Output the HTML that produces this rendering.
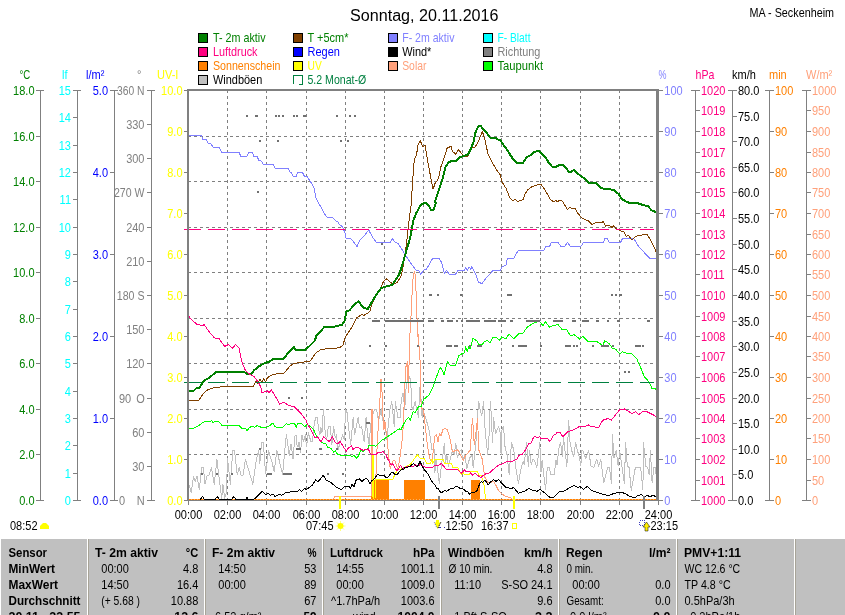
<!DOCTYPE html>
<html><head><meta charset="utf-8"><title>Sonntag, 20.11.2016</title>
<style>
html,body{margin:0;padding:0;background:#fff;overflow:hidden}
svg{display:block;font-family:"Liberation Sans",Arial,sans-serif}
text{white-space:pre}
</style></head><body>
<svg width="845" height="615" viewBox="0 0 845 615">
<rect x="0" y="0" width="845" height="615" fill="#fff"/>
<g shape-rendering="crispEdges">
<line x1="188" y1="136.5" x2="655" y2="136.5" stroke="#808080" stroke-width="1" stroke-dasharray="3 3"/>
<line x1="188" y1="181.5" x2="655" y2="181.5" stroke="#808080" stroke-width="1" stroke-dasharray="3 3"/>
<line x1="188" y1="227.5" x2="655" y2="227.5" stroke="#808080" stroke-width="1" stroke-dasharray="3 3"/>
<line x1="188" y1="272.5" x2="655" y2="272.5" stroke="#808080" stroke-width="1" stroke-dasharray="3 3"/>
<line x1="188" y1="318.5" x2="655" y2="318.5" stroke="#808080" stroke-width="1" stroke-dasharray="3 3"/>
<line x1="188" y1="363.5" x2="655" y2="363.5" stroke="#808080" stroke-width="1" stroke-dasharray="3 3"/>
<line x1="188" y1="409.5" x2="655" y2="409.5" stroke="#808080" stroke-width="1" stroke-dasharray="3 3"/>
<line x1="188" y1="454.5" x2="655" y2="454.5" stroke="#808080" stroke-width="1" stroke-dasharray="3 3"/>
<line x1="227.5" y1="90" x2="227.5" y2="500" stroke="#808080" stroke-width="1" stroke-dasharray="3 3"/>
<line x1="266.5" y1="90" x2="266.5" y2="500" stroke="#808080" stroke-width="1" stroke-dasharray="3 3"/>
<line x1="306.5" y1="90" x2="306.5" y2="500" stroke="#808080" stroke-width="1" stroke-dasharray="3 3"/>
<line x1="345.5" y1="90" x2="345.5" y2="500" stroke="#808080" stroke-width="1" stroke-dasharray="3 3"/>
<line x1="384.5" y1="90" x2="384.5" y2="500" stroke="#808080" stroke-width="1" stroke-dasharray="3 3"/>
<line x1="423.5" y1="90" x2="423.5" y2="500" stroke="#808080" stroke-width="1" stroke-dasharray="3 3"/>
<line x1="462.5" y1="90" x2="462.5" y2="500" stroke="#808080" stroke-width="1" stroke-dasharray="3 3"/>
<line x1="501.5" y1="90" x2="501.5" y2="500" stroke="#808080" stroke-width="1" stroke-dasharray="3 3"/>
<line x1="540.5" y1="90" x2="540.5" y2="500" stroke="#808080" stroke-width="1" stroke-dasharray="3 3"/>
<line x1="580.5" y1="90" x2="580.5" y2="500" stroke="#808080" stroke-width="1" stroke-dasharray="3 3"/>
<line x1="619.5" y1="90" x2="619.5" y2="500" stroke="#808080" stroke-width="1" stroke-dasharray="3 3"/>
</g>
<!--DATA-->
<polyline points="188.9,484.2 191.2,492.3 193.5,476.2 195.2,481.9 197,476.2 199.3,490 201.6,467.5 203.3,467.5 205,484.2 206.8,476.2 209.1,475 211.4,467.5 214.3,484.2 216.9,459.4 218.9,476.2 220.6,490 221.8,498.1 222.9,484.2 224.7,498.1 226.4,492.3 227.5,458.8 230.4,484.2 232.7,450.8 234.5,450.8 237.3,475 239.3,467.5 240.8,475 243.1,475 245.4,459.4 252.9,484.2 256.4,459.4 258.7,450.8 259.8,463.5 261.6,442.1 263.3,442.1 265.6,473.8 268.5,450.8 272.2,462.9 274.1,471.4 276.9,450.6 279.8,462.9 282.6,474.2 285.4,443.9 286.4,434.5 289.2,455.3 291.1,443.9 293,459.1 294.9,436.4 296,434.8 296.5,443.7 298,446.7 299,441.7 300.5,452.7 302,434.8 303.5,441.7 305.4,434.8 306.4,446.7 308.4,432.8 310.9,441.7 312.4,441.7 314.4,422.8 315.9,417.4 317.4,417.4 318.4,427.8 319.9,434.8 320.9,427.8 322,432.8 323.3,409.4 324.3,418.9 325.3,434.8 326.8,438.7 328.3,426.8 330.3,426.8 331.8,444.7 333.6,426.8 335.3,437.7 336.3,434.8 338.2,449.2 340.2,442.7 342.7,434.8 344.2,439.7 345.7,409.4 347.2,412.9 348.2,423.8 350.7,444.7 353.2,417.4 354.6,434.8 358.1,417.4 359.6,427.8 361.6,426.8 364.1,441.7 366.1,417.4 367.6,434.8 369.1,444.7 370.6,424.8 372,417.4 374.5,409.4 376.5,409.4 378.5,420.8 381.4,408.8 382.4,419.8 384.9,423.7 386.8,439.6 388.8,419.8 389.8,409.8 391.8,401.4 394.3,426.7 395.3,401.4 397.8,417.3 400.3,417.3 401.3,398.9 403.2,392.9 404.7,409.8 406.2,386 408.7,376 410.7,380 411.7,406.8 413.2,409.8 415.2,401.4 416.7,409.8 418.6,417.8 419.6,387 421.1,399.9 422.1,417.8 423.1,409.8 425.6,417.8 428.6,427.7 430.6,439.6 432,449.9 434.4,449.9 434.9,472.8 435.9,459.9 437.4,467.8 439.4,483.7 440.9,469.8 444.4,443 445.4,462.9 446.9,454.9 448.4,466.8 450.4,457.9 452.8,449.9 454.3,454.9 455.8,443 457.3,457.9 459.3,451.9 461.3,449.9 462.8,459.9 464.8,454.9 466.8,468.8 469.7,457.9 472.2,454.9 473.2,467.8 476.7,434.8 477.7,414.9 478.7,401 479.7,407.9 481.7,415.9 483.7,401 484.7,424.8 486.2,440.7 487.7,454.6 489.1,434.8 489.6,415.9 490.6,401 491.6,424.8 492.6,442.7 493.6,417.4 495.6,433.8 498.6,426.3 500.1,432.8 501.1,454.6 501.2,431.5 503.5,426.3 505.2,448.8 506.9,453.5 509.2,474.2 511.5,442.5 513.8,450 515.6,466.2 518.5,483.5 520.8,469.6 523.1,461.5 524.2,465 526.5,442.5 528.3,466.2 529.4,450 531.2,465 532.9,459.2 534.6,460.4 536.9,467.3 539.8,442.5 541,471.9 542.1,460.4 543.8,475.4 545.6,489.2 547.3,467.3 549,467.3 550.8,474.2 554.2,474.2 556,460.4 557.1,465 558.8,448.8 560.6,442.5 562.3,456.9 563.5,437.3 565.2,452.3 566.9,466.2 568.7,420 569.8,440.8 571.5,450 573.8,456.9 575.6,442.5 577.3,450 579.6,458.1 580.8,465.6 581.9,450 582.9,450.6 585.8,458.7 588.7,450.6 591,466.2 593.8,467.3 596.7,459.2 598.5,466.2 600.8,459.2 603.7,482.9 607.7,467.3 609.4,467.3 611.4,483.5 612.5,434.4 614,458.1 616.3,450.6 618.1,466.2 619.8,451.2 624.4,483.5 625.6,442.5 627.3,466.2 629,467.3 631.3,490.4 635.4,467.3 640.6,467.3 642.9,489.2 643.5,442.5 645.8,466.2 647.5,467.3 649.2,474.2 650.4,450.6 652.1,482.9 653.8,467.3 655,467.3 656.2,475.4" fill="none" stroke="#c0c0c0" stroke-width="1" stroke-linejoin="round" shape-rendering="crispEdges"/>
<g shape-rendering="crispEdges">
<rect x="371" y="480" width="18" height="20" fill="#ff8000"/>
<rect x="404" y="480" width="21" height="20" fill="#ff8000"/>
<rect x="471" y="480" width="9" height="20" fill="#ff8000"/>
</g>
<polyline points="333.7,499.5 334.6,496 371.3,496 371.6,409 372.8,409 373.2,499 375,499 377.4,440 379.4,410 380.4,390 381,379 382,392 382.4,400 383.2,422 383.9,430 384.9,421 386.3,433 387.3,440 388.5,455 390.2,468.8 392.7,461.4 394.7,460 397.7,468.8 399.7,459.9 402.2,440 403.7,420 404.4,390 405,382 405.8,367.4 407.3,361.5 408,380 408.4,393 408.8,380 409.3,344 410.8,320.5 412.2,291.3 413.4,274 414.8,271.8 415.7,281.5 416.3,301 417.1,320.5 417.5,336.1 418.6,334.2 419,345.9 420,359.6 420.8,399.9 421.6,407.8 423.6,410.8 424.6,419.8 426.1,433.7 427.1,443 429,454.9 430.5,460.9 432,459 433.5,449.9 434.5,436.7 436.5,434.8 438,441.7 439.4,433.8 440.9,435.8 442.9,429.8 444.9,428.3 446.9,429.3 449.4,435.8 452.4,451.7 457.8,449.9 461.3,456.9 463.3,460.4 465.3,455.9 469.7,450.9 470.3,450.7 471.7,426.8 472.5,418.4 473.2,426.8 474.2,444.7 475.7,434.8 477.5,418.4 478.2,434.8 478.7,449.7 480.2,453.9 482.2,458.9 483.7,469.8 484.6,476.8 488.1,482.7 493.6,481.7 495.6,484.7 498.6,490.7 502,494.2 506,496.5 510.7,497.9 512,499.5" fill="none" stroke="#ffa07a" stroke-width="1" stroke-linejoin="round" shape-rendering="crispEdges"/>
<polyline points="372,499.5 372.5,454 373.5,454 374,499.5 375,499.5 375.5,479.8 392.7,479.8 394.7,474.8 397.7,469.8 401.7,468.8 405.6,466.8 409.6,464.9 411.6,462.9 415.6,456.9 417.6,454.9 420.6,458.9 424.5,458.9 426.5,463.4 430.5,463.4 432,459.4 433,463.4 434.9,459.4 443.4,459.4 444.4,463.4 451.3,463.4 452.8,467.3 457.8,467.3 459.8,471.8 461.3,474.8 463.3,471.8 464.3,474.8 469.7,474.8 470.2,471.8 477.7,471.8 478.7,475.3 481.2,475.8 482.7,479.8 484.2,485.7 485.6,499.5" fill="none" stroke="#ffff00" stroke-width="1" stroke-linejoin="round" shape-rendering="crispEdges"/>
<line x1="189" y1="499.5" x2="656" y2="499.5" stroke="#ffb060" stroke-width="1" shape-rendering="crispEdges"/><line x1="189" y1="499.5" x2="656" y2="499.5" stroke="#ff8000" stroke-width="1" stroke-dasharray="2 1" shape-rendering="crispEdges"/>
<polyline points="188.3,135.6 201.5,135.6 203,139.4 206.5,139.8 208.3,143.4 211,143.8 212.9,147 219.1,147.4 221.6,152.3 239,152.3 240.9,156.3 247,156.3 248.9,152.3 252.3,152.3 253.8,156.3 257,156.6 258.9,160.4 260.8,160.4 263.3,164.2 273.1,164.2 275,168.2 288.3,168.2 290.2,172.2 291.3,172.6 293,176.3 296.2,176.3 297.7,172.6 302.5,172.6 304.4,176.3 307.2,176.7 311,182.6 314.4,188.3 315.7,197.7 317.6,201.5 321.4,207.7 324.3,213.4 327.1,217.2 332.8,217.5 335.6,220.9 337.5,221.5 340.4,225.7 342.2,226.2 345.1,233.2 346,238 349.8,238 353.6,241.8 357,246.5 360.2,239.9 364,236.1 368.7,230 372.5,237 376.3,242.2 381,242.2 390.5,242.2 392.4,238.9 395.2,242.2 398.1,243.7 401.9,249.3 406.6,256.9 410.4,262.6 413.2,266.4 416.1,270.2 418.9,271.1 420.8,274.3 423.7,270.2 426.5,269.2 430.3,262.6 432.7,258.4 439.2,258.4 441.6,262.6 444.5,274 446.4,270.2 449.2,274 455.8,274 457.7,270.6 464.4,270.6 465.7,267.3 467.2,270.6 469.1,266.8 470.6,269.2 471.9,266.8 474.8,272.1 478.6,282.5 482,283.4 486.2,277.8 489.9,274 492.8,270.6 500.4,270.2 502.2,266.4 506,265.4 506,262.6 507.9,258.4 513.6,258.4 518.3,250.3 543.9,250.3 545.8,246.5 549.6,246.5 551.5,242.3 558.1,242.3 560.9,246.5 564.7,246.5 567.6,242.3 570.4,246.5 580.8,246.5 583.7,242.3 603.5,242.3 604.9,238.4 607.3,238.4 609.2,242.3 620.6,242.3 622.5,238.4 633.8,238.4 638.6,246.5 642.4,250.3 646.2,254.7 649.9,258.4 656.6,258.4" fill="none" stroke="#8080ff" stroke-width="1" stroke-linejoin="round" shape-rendering="crispEdges"/>
<polyline points="188.3,428.4 193.6,428.4 198.3,426 204,421.8 209.7,421.8 211.6,420.3 212.9,423.1 215.4,421.2 219.1,421.8 222,425.6 239,425.6 241.9,428.4 245.7,428.8 247,430.7 249.4,427.5 252.3,426.3 254.6,427.5 257,425.6 261.8,427.5 265.5,427.8 269.3,426 272.7,423.1 275,426.9 282.6,427.5 286.4,423.7 289.2,425 291.1,423.1 294.9,424.1 296.2,427.5 296,426.8 297.5,423.8 302,423.8 304.9,426.8 306.9,424.3 310.9,426.8 313.9,430.3 316.9,436.7 319.9,439.7 321.8,442.7 325.8,443.7 327.8,447.2 330.8,448.2 333.8,452.2 335.3,450.7 337.7,454.6 342.7,455.6 347.7,455.6 348,455.4 350.5,455.9 352,456.9 354,455.4 356.9,458.4 358.9,454.9 360.9,449.4 362.9,451.9 364.4,449.9 367.4,449.4 368.9,445.5 371.8,445 373.8,445 375.8,446.5 379.8,442 382.3,440 392.4,433.5 396.2,430.7 399,428.8 400.9,429.7 402.8,426 405.7,420.3 408.5,417.4 410.4,420.3 413.2,411.8 415.1,412.7 418.9,406.1 420.8,407 423.7,399.4 429.3,394.7 433.1,387.1 436.9,375.8 440.1,367.6 441.6,369.1 444.1,374.8 447.3,361.9 450.2,365 455.8,365 458.7,355.9 461.5,354 464.4,353 465.7,346.8 467.2,352.1 468.7,346.4 470.1,349.2 472.9,338.5 476.7,340.7 478.6,344.5 482.4,344.5 484.3,341.7 487.1,340.3 489.9,342.6 492.8,337.9 496.6,337.3 499.4,340.3 501.7,336.9 506,338.8 508.8,334.1 513.6,338.8 519.3,333.2 523,333.2 526.8,327.5 532.5,323.7 537.2,321.8 540.1,321.8 542.9,325.6 545.4,321.8 549.6,327.1 553.3,325.6 558.1,324.6 561.9,329.4 566.6,329.4 570.4,336 574.2,334.7 579.9,339.2 582.7,336 588.4,341.7 596.9,341.7 602.6,345.5 604.9,340.7 609.2,343.6 612.1,347.9 615.8,349.2 619.6,354 622.5,351.7 627.2,353.6 631.9,354 636.7,358.7 640.5,367.2 644.3,376.7 647.1,379.6 649.9,383.3 651.8,388.5 655.6,389 656.9,390.9" fill="none" stroke="#00ff00" stroke-width="1" stroke-linejoin="round" shape-rendering="crispEdges"/>
<polyline points="188.3,400.4 198.9,400.4 203,393.8 207.8,389.6 214.4,387.7 223.9,386.6 253.2,386.2 256.1,381.4 258,383.3 260.2,379 261.8,382.4 263.7,378.6 265.5,382 267.4,377.7 273.1,374.4 284.5,372.9 289.2,366.9 293,363.8 299.6,362.5 310.1,361.2 315.7,353 320.5,349.8 329.9,348.3 339.4,347.9 342.8,345.5 345.1,337.9 346,336 351.7,327.5 356.4,318 357.4,317.5 361.2,314.7 364,315.3 369.7,311.8 372.5,302.4 376.3,295.8 380.1,290.1 382.9,282.5 386.2,278.7 389.6,281.5 393.3,284.4 397.1,282.5 400.9,276.8 402.8,268.3 405.7,249.3 407.6,234.2 409.4,217.2 411.3,203.9 411.3,201.5 412.7,180.7 413.8,163.7 415.1,158 416.5,155.1 418,144.7 420.2,140.5 422.7,146.6 425.2,145.7 427.4,159.9 430.3,175 433.1,189.2 435,183.5 438.4,178.8 440.7,167.4 443.5,159.9 447.3,147.6 451.1,146.6 452.4,151.3 455.8,154.2 458.7,149.4 461.9,154.2 465.3,156.1 468.2,156.1 471,147.6 474.8,147.6 478.6,140.9 482.4,131.5 485.2,140.9 488,154.2 491.8,161.8 497.5,171.2 500.4,175 501.7,181.6 506,188.3 509.8,197.7 512.6,200.6 515.5,199.6 517.4,201.5 523,199.6 524.9,194 527.8,189.8 532.5,186.4 537.2,184.9 541,184.5 543.9,188.3 546.7,193 550.5,199.6 553.3,201.5 556.2,200.6 557.5,201.9 559,200.6 561.9,200.6 562.8,202 567.6,209.6 569.4,207.7 575.1,208.6 578,213.4 581.8,218.1 588.4,220.9 592.2,224.7 595,222.8 603.5,221.9 605.4,226.2 609.2,225.1 612.1,227.6 614,225.7 615.8,228.5 619.6,230.4 624.4,232.3 626.3,237 628.2,235.1 631.9,239.9 635.7,236.5 640.5,235.1 647.1,234.6 649.9,238.9 652.8,244.6 655.6,250.3 656.9,254.7" fill="none" stroke="#804000" stroke-width="1" stroke-linejoin="round" shape-rendering="crispEdges"/>
<polyline points="188.3,390.9 193.6,390.9 196.4,388.1 199.3,387.7 204,380.5 207.8,378.6 211.6,375.8 215.4,372.4 244.7,372.4 247.6,374.4 251.3,374.4 254.2,370.1 258.9,366.3 263.7,363.5 269.3,361.6 273.1,359.1 283.5,358.7 287.3,354 292.1,349.2 293.6,346.8 295.8,349.8 305.3,349.8 310.1,345.5 314.8,340.7 316.3,336 320.5,331.3 324.3,327.1 335.6,326.5 342.2,324.6 345.1,319.9 346,311.8 349.8,310 354.5,304.3 358.3,301.4 364,308.1 367.8,309 371.6,302.4 376.3,294.8 381,288.2 383.9,287.2 392.4,284.8 395.6,279.7 399,274.9 401.9,266.4 405.7,253.1 410.4,237 413.2,220.9 416.1,213.4 420.8,204.8 425.5,202.6 429.3,206.7 431.2,210.5 433.5,210 436,202.9 435,201.5 436.9,195.8 439.2,189.2 442.6,178.8 445.4,167.4 448.3,162.7 452.1,160.8 455.8,160.8 459.6,157 463.4,156.1 468.2,154.2 471,148.5 473.8,140.9 475.7,131.5 478.6,126.2 480.5,125.8 483.3,129.2 487.1,133.3 489.9,137.5 495.6,137.5 497.5,139.4 500.4,140 503.2,144.7 506,148.1 509.8,154.2 513.6,159.9 516.4,162.7 523,162.7 526.8,157 530.6,155.1 534.4,151.9 539.1,150.8 542.9,155.1 545.8,157.6 548.6,162.7 552.4,166.9 556.2,166.9 559,165 562.8,165 565.7,167.4 568.5,171.6 571.3,171.6 574.2,169.9 577,173.1 580.8,176 584.6,178.8 588.4,182.6 596,183 599.8,187.3 604.5,189.2 609.2,189.2 614,190.2 618.7,194 621.5,198.7 625.3,201.2 631,203.5 636.7,202.9 642.4,204.8 648,206.2 651.8,210.5 656.9,212.4" fill="none" stroke="#008000" stroke-width="2" stroke-linejoin="round" shape-rendering="crispEdges"/>
<polyline points="188.3,315.5 191.7,319.9 197.4,324.6 203,325.6 204,324.1 208.7,331.3 214.4,337.9 219.1,338.8 224.8,346.4 228.6,344.5 232.4,348.3 235.6,344.5 239,348.3 240.9,357.8 242.8,364.4 245.7,371 249.4,373.9 254.2,376.7 258.9,383.3 260.8,387.1 261.8,392.8 267.4,390.9 269.3,392.8 271.2,389.6 275,395.7 279.8,404.2 283.5,402.3 289.2,405.5 294,406.6 296,408.4 301,413.4 305.9,419.9 307.9,424.8 310.9,429.8 314.9,437.7 317.4,436.7 320.9,441.7 323.8,436.7 325.8,438.7 329.3,441.7 332.3,436.7 335.3,442.7 337.7,443.7 340.2,441.2 342.7,445.7 346.2,451.2 348.7,447.7 351.5,446 353,449.4 355.9,447.5 358.4,447.5 360.9,449.4 363.4,450.4 365.9,449.4 368.4,448.9 369.9,452.9 372.3,454.9 375.8,454.9 377.8,452.9 380.8,452.9 382.8,451.4 385.8,454.9 388.2,459.9 391.2,464.9 392.7,463.9 395.7,469.3 397.2,470.8 399.7,466.8 400.7,465.3 402.7,469.3 404.2,467.3 407.6,466.8 413.6,466.8 415.6,464.4 417.1,466.8 420.1,464.4 423,465.8 425.5,467.3 426,467.3 433,467 434.9,465.3 438.9,465.3 441.4,463.4 443.4,466 446.4,469.3 456.8,469.3 459.3,471.3 461.8,473.3 464.3,469.8 465.8,471.6 469.7,471.8 472.2,475.3 474.7,473.3 477.7,475.3 480.7,477.8 484.6,474.3 489.6,472.8 494.6,468.3 498.6,465.3 503.5,463.4 507,461.4 506.9,461.5 512.7,461 517.3,458.7 519,455.2 521.9,454.6 525.4,450 528.8,443.7 531.2,443.1 533.5,437.3 535.2,436.2 537.5,437.9 539.8,436.7 540.4,438.2 547.3,438.2 549.6,441.3 551.3,439.6 553.7,435 555.4,434.4 557.1,432.5 560,432.5 562.9,436.7 568.1,431.5 573.8,429.8 579.6,426.3 584,426.3 585.5,426.3 588.4,425 590.3,426.3 598.8,427.5 602.6,420.3 608.3,418.4 611.1,420.3 615.8,414.6 619.6,409.9 624.4,408.9 629.1,411.8 631.9,413.6 635.7,411.8 638.6,414.6 642.4,411.8 647.1,411.8 652.8,414.6 656.9,417.4" fill="none" stroke="#ff0080" stroke-width="1" stroke-linejoin="round" shape-rendering="crispEdges"/>
<polyline points="200.2,499.5 202.6,496.5 204.5,499.5 215,499.5 217.3,496.5 219.3,499.5 231.5,499.5 233.8,496.5 236,499.5 246.5,499.5 247,497.4 247.6,499.5 253.7,499.5 257,496.6 260.8,492.8 262.3,491.3 265.5,494.7 268.4,493.2 270.3,495.5 273.1,494.1 275,496.6 279.8,494.1 281.6,495.5 285.4,492.8 292.1,491.7 297.7,491.3 299.6,489.4 301.5,491.3 304.4,488.4 306.3,489.4 311.9,485.6 315.7,479.9 317.6,481.8 320.5,479 323.3,475.2 326.2,480.3 329.9,481.8 335.6,486.6 341.3,489.8 343.2,487.5 346,485.9 349,486.7 350.5,488.2 352,484.2 353.5,485.9 354,486.7 355.9,480.8 357.4,479.3 359.4,478.8 360.9,480.8 362.4,481.3 364.4,479.3 366.4,478.3 368.4,480.8 369.9,484.2 371.8,480.8 374.3,478.8 377.3,474.8 380.3,475.3 384.3,475.3 385.8,477.8 388.2,476.8 390.2,474.3 391.7,472.3 393.2,472.8 394.7,474.3 397.2,474.3 400.2,470.8 402.7,468.8 403.7,469.3 405.1,467.3 409.6,466.8 411.6,464.9 413.6,463.4 415.6,465.8 417.6,466.3 420.1,461.4 422,465.8 424.5,469.8 426.5,472.8 426,471.3 429,475.8 432,481.7 434.9,484.7 436.9,488.7 438.4,488.7 440.9,493.2 444.4,490.7 446.9,491.2 450.9,488.2 452.8,488.7 454.8,487.2 457.3,486.2 460.3,488.7 462.3,488.2 465.8,491.2 467.7,491.7 469.7,494.2 471.2,492.7 474.7,492.2 476.7,491.2 478.2,487.7 480.2,482.2 481.7,481.7 482.7,482.7 484.2,480.8 485.6,480.8 488.1,485.2 490.6,481.7 493.6,479.8 496.1,481.3 498.6,479.6 502,483.7 505.5,486.7 506,487.5 511.7,488.4 513.6,487.5 518.3,493.2 524.9,491.3 528.7,488.4 532.5,490.3 537.2,491.3 540.1,489.4 543.9,492.2 550.5,497.9 553.3,497.9 560,491.3 562.8,491.7 568.5,488.4 574.2,485.6 578,487.5 579.9,486.6 583.7,489.4 587.4,486.2 591.2,490.3 596.9,492.2 602.6,494.1 608.3,495.5 612.1,494.1 619.6,492.2 624.4,493.2 629.1,496 634.8,497.9 637.6,495.5 641.4,494.7 644.3,497.3 647.1,495.1 649.9,497 652.8,495.1 655.6,496.6" fill="none" stroke="#000" stroke-width="1" stroke-linejoin="round" shape-rendering="crispEdges"/>
<g shape-rendering="crispEdges" fill="#707070">
<rect x="246" y="115" width="2" height="2"/>
<rect x="255" y="115" width="3" height="2"/>
<rect x="275" y="115" width="2" height="2"/>
<rect x="278" y="115" width="2" height="2"/>
<rect x="282" y="115" width="2" height="2"/>
<rect x="293" y="115" width="2" height="2"/>
<rect x="296" y="115" width="2" height="2"/>
<rect x="303" y="115" width="3" height="2"/>
<rect x="336" y="115" width="2" height="2"/>
<rect x="349" y="115" width="2" height="2"/>
<rect x="354" y="115" width="2" height="2"/>
<rect x="259" y="140" width="2" height="2"/>
<rect x="277" y="140" width="2" height="2"/>
<rect x="340" y="140" width="2" height="2"/>
<rect x="347" y="140" width="2" height="2"/>
<rect x="257" y="191" width="2" height="2"/>
<rect x="381" y="243" width="2" height="2"/>
<rect x="429" y="294" width="3" height="2"/>
<rect x="437" y="294" width="2" height="2"/>
<rect x="460" y="294" width="2" height="2"/>
<rect x="507" y="294" width="5" height="2"/>
<rect x="611" y="294" width="2" height="2"/>
<rect x="615" y="294" width="2" height="2"/>
<rect x="619" y="294" width="3" height="2"/>
<rect x="372" y="320" width="8" height="2"/>
<rect x="385" y="320" width="39" height="2"/>
<rect x="428" y="320" width="6" height="2"/>
<rect x="441" y="320" width="3" height="2"/>
<rect x="447" y="320" width="6" height="2"/>
<rect x="456" y="320" width="2" height="2"/>
<rect x="461" y="320" width="2" height="2"/>
<rect x="466" y="320" width="14" height="2"/>
<rect x="484" y="320" width="12" height="2"/>
<rect x="498" y="320" width="8" height="2"/>
<rect x="510" y="320" width="3" height="2"/>
<rect x="526" y="320" width="14" height="2"/>
<rect x="553" y="320" width="10" height="2"/>
<rect x="572" y="320" width="4" height="2"/>
<rect x="582" y="320" width="7" height="2"/>
<rect x="596" y="320" width="3" height="2"/>
<rect x="607" y="320" width="2" height="2"/>
<rect x="617" y="320" width="3" height="2"/>
<rect x="647" y="320" width="3" height="2"/>
<rect x="369" y="345" width="2" height="2"/>
<rect x="385" y="345" width="2" height="2"/>
<rect x="417" y="345" width="2" height="2"/>
<rect x="446" y="345" width="6" height="2"/>
<rect x="454" y="345" width="4" height="2"/>
<rect x="469" y="345" width="2" height="2"/>
<rect x="477" y="345" width="5" height="2"/>
<rect x="512" y="345" width="2" height="2"/>
<rect x="518" y="345" width="9" height="2"/>
<rect x="540" y="345" width="2" height="2"/>
<rect x="565" y="345" width="6" height="2"/>
<rect x="573" y="345" width="2" height="2"/>
<rect x="576" y="345" width="2" height="2"/>
<rect x="592" y="345" width="2" height="2"/>
<rect x="601" y="345" width="8" height="2"/>
<rect x="612" y="345" width="2" height="2"/>
<rect x="635" y="345" width="6" height="2"/>
<rect x="642" y="345" width="2" height="2"/>
<rect x="624" y="371" width="2" height="2"/>
<rect x="628" y="371" width="2" height="2"/>
<rect x="288" y="397" width="2" height="2"/>
<rect x="301" y="397" width="2" height="2"/>
<rect x="366" y="422" width="4" height="2"/>
<rect x="259" y="448" width="2" height="2"/>
<rect x="296" y="448" width="5" height="2"/>
<rect x="319" y="448" width="3" height="2"/>
<rect x="336" y="448" width="2" height="2"/>
<rect x="201" y="473" width="2" height="2"/>
<rect x="216" y="473" width="2" height="2"/>
<rect x="231" y="473" width="2" height="2"/>
<rect x="267" y="473" width="5" height="2"/>
<rect x="283" y="473" width="9" height="2"/>
<rect x="327" y="473" width="2" height="2"/>
<rect x="342" y="473" width="2" height="2"/>
</g>
<g shape-rendering="crispEdges">
<line x1="184" y1="229.5" x2="654" y2="229.5" stroke="#ff0080" stroke-width="1" stroke-dasharray="17 7"/>
<line x1="184" y1="382.5" x2="654" y2="382.5" stroke="#008040" stroke-width="1" stroke-dasharray="17 7"/>
</g>
<g shape-rendering="crispEdges">
<rect x="187" y="89" width="2" height="412" fill="#808080"/>
<rect x="656" y="89" width="3" height="412" fill="#808080"/>
<rect x="187" y="89" width="472" height="2" fill="#808080"/>
<rect x="184" y="500" width="479" height="1" fill="#808080"/>
<rect x="188" y="500" width="1" height="5" fill="#808080"/>
<rect x="227" y="500" width="1" height="5" fill="#808080"/>
<rect x="266" y="500" width="1" height="5" fill="#808080"/>
<rect x="306" y="500" width="1" height="5" fill="#808080"/>
<rect x="345" y="500" width="1" height="5" fill="#808080"/>
<rect x="384" y="500" width="1" height="5" fill="#808080"/>
<rect x="423" y="500" width="1" height="5" fill="#808080"/>
<rect x="462" y="500" width="1" height="5" fill="#808080"/>
<rect x="501" y="500" width="1" height="5" fill="#808080"/>
<rect x="540" y="500" width="1" height="5" fill="#808080"/>
<rect x="580" y="500" width="1" height="5" fill="#808080"/>
<rect x="619" y="500" width="1" height="5" fill="#808080"/>
<rect x="658" y="500" width="1" height="5" fill="#808080"/>
<rect x="40" y="90" width="1" height="411" fill="#808080"/>
<rect x="36" y="500" width="8" height="1" fill="#808080"/>
<rect x="36" y="454" width="4" height="1" fill="#808080"/>
<rect x="36" y="409" width="4" height="1" fill="#808080"/>
<rect x="36" y="363" width="4" height="1" fill="#808080"/>
<rect x="36" y="318" width="4" height="1" fill="#808080"/>
<rect x="36" y="272" width="4" height="1" fill="#808080"/>
<rect x="36" y="227" width="4" height="1" fill="#808080"/>
<rect x="36" y="181" width="4" height="1" fill="#808080"/>
<rect x="36" y="136" width="4" height="1" fill="#808080"/>
<rect x="36" y="90" width="8" height="1" fill="#808080"/>
<rect x="77" y="90" width="1" height="411" fill="#808080"/>
<rect x="73" y="500" width="8" height="1" fill="#808080"/>
<rect x="73" y="473" width="4" height="1" fill="#808080"/>
<rect x="73" y="445" width="4" height="1" fill="#808080"/>
<rect x="73" y="418" width="4" height="1" fill="#808080"/>
<rect x="73" y="391" width="4" height="1" fill="#808080"/>
<rect x="73" y="363" width="4" height="1" fill="#808080"/>
<rect x="73" y="336" width="4" height="1" fill="#808080"/>
<rect x="73" y="309" width="4" height="1" fill="#808080"/>
<rect x="73" y="281" width="4" height="1" fill="#808080"/>
<rect x="73" y="254" width="4" height="1" fill="#808080"/>
<rect x="73" y="227" width="4" height="1" fill="#808080"/>
<rect x="73" y="199" width="4" height="1" fill="#808080"/>
<rect x="73" y="172" width="4" height="1" fill="#808080"/>
<rect x="73" y="145" width="4" height="1" fill="#808080"/>
<rect x="73" y="117" width="4" height="1" fill="#808080"/>
<rect x="73" y="90" width="8" height="1" fill="#808080"/>
<rect x="114" y="90" width="1" height="411" fill="#808080"/>
<rect x="110" y="500" width="8" height="1" fill="#808080"/>
<rect x="110" y="418" width="4" height="1" fill="#808080"/>
<rect x="110" y="336" width="4" height="1" fill="#808080"/>
<rect x="110" y="254" width="4" height="1" fill="#808080"/>
<rect x="110" y="172" width="4" height="1" fill="#808080"/>
<rect x="110" y="90" width="8" height="1" fill="#808080"/>
<rect x="151" y="90" width="1" height="411" fill="#808080"/>
<rect x="147" y="500" width="8" height="1" fill="#808080"/>
<rect x="147" y="466" width="4" height="1" fill="#808080"/>
<rect x="147" y="432" width="4" height="1" fill="#808080"/>
<rect x="147" y="398" width="4" height="1" fill="#808080"/>
<rect x="147" y="363" width="4" height="1" fill="#808080"/>
<rect x="147" y="329" width="4" height="1" fill="#808080"/>
<rect x="147" y="295" width="4" height="1" fill="#808080"/>
<rect x="147" y="261" width="4" height="1" fill="#808080"/>
<rect x="147" y="227" width="4" height="1" fill="#808080"/>
<rect x="147" y="192" width="4" height="1" fill="#808080"/>
<rect x="147" y="158" width="4" height="1" fill="#808080"/>
<rect x="147" y="124" width="4" height="1" fill="#808080"/>
<rect x="147" y="90" width="8" height="1" fill="#808080"/>
<rect x="184" y="500" width="3" height="1" fill="#808080"/>
<rect x="184" y="459" width="3" height="1" fill="#808080"/>
<rect x="184" y="418" width="3" height="1" fill="#808080"/>
<rect x="184" y="377" width="3" height="1" fill="#808080"/>
<rect x="184" y="336" width="3" height="1" fill="#808080"/>
<rect x="184" y="295" width="3" height="1" fill="#808080"/>
<rect x="184" y="254" width="3" height="1" fill="#808080"/>
<rect x="184" y="213" width="3" height="1" fill="#808080"/>
<rect x="184" y="172" width="3" height="1" fill="#808080"/>
<rect x="184" y="131" width="3" height="1" fill="#808080"/>
<rect x="184" y="90" width="3" height="1" fill="#808080"/>
<rect x="659" y="500" width="4" height="1" fill="#808080"/>
<rect x="659" y="459" width="4" height="1" fill="#808080"/>
<rect x="659" y="418" width="4" height="1" fill="#808080"/>
<rect x="659" y="377" width="4" height="1" fill="#808080"/>
<rect x="659" y="336" width="4" height="1" fill="#808080"/>
<rect x="659" y="295" width="4" height="1" fill="#808080"/>
<rect x="659" y="254" width="4" height="1" fill="#808080"/>
<rect x="659" y="213" width="4" height="1" fill="#808080"/>
<rect x="659" y="172" width="4" height="1" fill="#808080"/>
<rect x="659" y="131" width="4" height="1" fill="#808080"/>
<rect x="659" y="90" width="4" height="1" fill="#808080"/>
<rect x="695" y="90" width="1" height="411" fill="#808080"/>
<rect x="691" y="500" width="9" height="1" fill="#808080"/>
<rect x="695" y="480" width="5" height="1" fill="#808080"/>
<rect x="695" y="459" width="5" height="1" fill="#808080"/>
<rect x="695" y="438" width="5" height="1" fill="#808080"/>
<rect x="695" y="418" width="5" height="1" fill="#808080"/>
<rect x="695" y="398" width="5" height="1" fill="#808080"/>
<rect x="695" y="377" width="5" height="1" fill="#808080"/>
<rect x="695" y="356" width="5" height="1" fill="#808080"/>
<rect x="695" y="336" width="5" height="1" fill="#808080"/>
<rect x="695" y="316" width="5" height="1" fill="#808080"/>
<rect x="695" y="295" width="5" height="1" fill="#808080"/>
<rect x="695" y="274" width="5" height="1" fill="#808080"/>
<rect x="695" y="254" width="5" height="1" fill="#808080"/>
<rect x="695" y="234" width="5" height="1" fill="#808080"/>
<rect x="695" y="213" width="5" height="1" fill="#808080"/>
<rect x="695" y="192" width="5" height="1" fill="#808080"/>
<rect x="695" y="172" width="5" height="1" fill="#808080"/>
<rect x="695" y="152" width="5" height="1" fill="#808080"/>
<rect x="695" y="131" width="5" height="1" fill="#808080"/>
<rect x="695" y="110" width="5" height="1" fill="#808080"/>
<rect x="691" y="90" width="9" height="1" fill="#808080"/>
<rect x="732" y="90" width="1" height="411" fill="#808080"/>
<rect x="728" y="500" width="9" height="1" fill="#808080"/>
<rect x="732" y="474" width="5" height="1" fill="#808080"/>
<rect x="732" y="449" width="5" height="1" fill="#808080"/>
<rect x="732" y="423" width="5" height="1" fill="#808080"/>
<rect x="732" y="398" width="5" height="1" fill="#808080"/>
<rect x="732" y="372" width="5" height="1" fill="#808080"/>
<rect x="732" y="346" width="5" height="1" fill="#808080"/>
<rect x="732" y="321" width="5" height="1" fill="#808080"/>
<rect x="732" y="295" width="5" height="1" fill="#808080"/>
<rect x="732" y="269" width="5" height="1" fill="#808080"/>
<rect x="732" y="244" width="5" height="1" fill="#808080"/>
<rect x="732" y="218" width="5" height="1" fill="#808080"/>
<rect x="732" y="192" width="5" height="1" fill="#808080"/>
<rect x="732" y="167" width="5" height="1" fill="#808080"/>
<rect x="732" y="141" width="5" height="1" fill="#808080"/>
<rect x="732" y="116" width="5" height="1" fill="#808080"/>
<rect x="728" y="90" width="9" height="1" fill="#808080"/>
<rect x="769" y="90" width="1" height="411" fill="#808080"/>
<rect x="765" y="500" width="9" height="1" fill="#808080"/>
<rect x="769" y="459" width="5" height="1" fill="#808080"/>
<rect x="769" y="418" width="5" height="1" fill="#808080"/>
<rect x="769" y="377" width="5" height="1" fill="#808080"/>
<rect x="769" y="336" width="5" height="1" fill="#808080"/>
<rect x="769" y="295" width="5" height="1" fill="#808080"/>
<rect x="769" y="254" width="5" height="1" fill="#808080"/>
<rect x="769" y="213" width="5" height="1" fill="#808080"/>
<rect x="769" y="172" width="5" height="1" fill="#808080"/>
<rect x="769" y="131" width="5" height="1" fill="#808080"/>
<rect x="765" y="90" width="9" height="1" fill="#808080"/>
<rect x="806" y="90" width="1" height="411" fill="#808080"/>
<rect x="802" y="500" width="9" height="1" fill="#808080"/>
<rect x="806" y="480" width="5" height="1" fill="#808080"/>
<rect x="806" y="459" width="5" height="1" fill="#808080"/>
<rect x="806" y="438" width="5" height="1" fill="#808080"/>
<rect x="806" y="418" width="5" height="1" fill="#808080"/>
<rect x="806" y="398" width="5" height="1" fill="#808080"/>
<rect x="806" y="377" width="5" height="1" fill="#808080"/>
<rect x="806" y="356" width="5" height="1" fill="#808080"/>
<rect x="806" y="336" width="5" height="1" fill="#808080"/>
<rect x="806" y="316" width="5" height="1" fill="#808080"/>
<rect x="806" y="295" width="5" height="1" fill="#808080"/>
<rect x="806" y="274" width="5" height="1" fill="#808080"/>
<rect x="806" y="254" width="5" height="1" fill="#808080"/>
<rect x="806" y="234" width="5" height="1" fill="#808080"/>
<rect x="806" y="213" width="5" height="1" fill="#808080"/>
<rect x="806" y="192" width="5" height="1" fill="#808080"/>
<rect x="806" y="172" width="5" height="1" fill="#808080"/>
<rect x="806" y="152" width="5" height="1" fill="#808080"/>
<rect x="806" y="131" width="5" height="1" fill="#808080"/>
<rect x="806" y="110" width="5" height="1" fill="#808080"/>
<rect x="802" y="90" width="9" height="1" fill="#808080"/>
</g>
<text transform="translate(34.5 505) scale(0.887 1)" fill="#008000" text-anchor="end" font-size="12.4">0.0</text>
<text transform="translate(34.5 459) scale(0.887 1)" fill="#008000" text-anchor="end" font-size="12.4">2.0</text>
<text transform="translate(34.5 414) scale(0.887 1)" fill="#008000" text-anchor="end" font-size="12.4">4.0</text>
<text transform="translate(34.5 368) scale(0.887 1)" fill="#008000" text-anchor="end" font-size="12.4">6.0</text>
<text transform="translate(34.5 323) scale(0.887 1)" fill="#008000" text-anchor="end" font-size="12.4">8.0</text>
<text transform="translate(34.5 277) scale(0.887 1)" fill="#008000" text-anchor="end" font-size="12.4">10.0</text>
<text transform="translate(34.5 232) scale(0.887 1)" fill="#008000" text-anchor="end" font-size="12.4">12.0</text>
<text transform="translate(34.5 186) scale(0.887 1)" fill="#008000" text-anchor="end" font-size="12.4">14.0</text>
<text transform="translate(34.5 141) scale(0.887 1)" fill="#008000" text-anchor="end" font-size="12.4">16.0</text>
<text transform="translate(34.5 95) scale(0.887 1)" fill="#008000" text-anchor="end" font-size="12.4">18.0</text>
<text transform="translate(71 505) scale(0.887 1)" fill="#00ffff" text-anchor="end" font-size="12.4">0</text>
<text transform="translate(71 478) scale(0.887 1)" fill="#00ffff" text-anchor="end" font-size="12.4">1</text>
<text transform="translate(71 450) scale(0.887 1)" fill="#00ffff" text-anchor="end" font-size="12.4">2</text>
<text transform="translate(71 423) scale(0.887 1)" fill="#00ffff" text-anchor="end" font-size="12.4">3</text>
<text transform="translate(71 396) scale(0.887 1)" fill="#00ffff" text-anchor="end" font-size="12.4">4</text>
<text transform="translate(71 368) scale(0.887 1)" fill="#00ffff" text-anchor="end" font-size="12.4">5</text>
<text transform="translate(71 341) scale(0.887 1)" fill="#00ffff" text-anchor="end" font-size="12.4">6</text>
<text transform="translate(71 314) scale(0.887 1)" fill="#00ffff" text-anchor="end" font-size="12.4">7</text>
<text transform="translate(71 286) scale(0.887 1)" fill="#00ffff" text-anchor="end" font-size="12.4">8</text>
<text transform="translate(71 259) scale(0.887 1)" fill="#00ffff" text-anchor="end" font-size="12.4">9</text>
<text transform="translate(71 232) scale(0.887 1)" fill="#00ffff" text-anchor="end" font-size="12.4">10</text>
<text transform="translate(71 204) scale(0.887 1)" fill="#00ffff" text-anchor="end" font-size="12.4">11</text>
<text transform="translate(71 177) scale(0.887 1)" fill="#00ffff" text-anchor="end" font-size="12.4">12</text>
<text transform="translate(71 150) scale(0.887 1)" fill="#00ffff" text-anchor="end" font-size="12.4">13</text>
<text transform="translate(71 122) scale(0.887 1)" fill="#00ffff" text-anchor="end" font-size="12.4">14</text>
<text transform="translate(71 95) scale(0.887 1)" fill="#00ffff" text-anchor="end" font-size="12.4">15</text>
<text transform="translate(108 505) scale(0.887 1)" fill="#0000ff" text-anchor="end" font-size="12.4">0.0</text>
<text transform="translate(108 423) scale(0.887 1)" fill="#0000ff" text-anchor="end" font-size="12.4">1.0</text>
<text transform="translate(108 341) scale(0.887 1)" fill="#0000ff" text-anchor="end" font-size="12.4">2.0</text>
<text transform="translate(108 259) scale(0.887 1)" fill="#0000ff" text-anchor="end" font-size="12.4">3.0</text>
<text transform="translate(108 177) scale(0.887 1)" fill="#0000ff" text-anchor="end" font-size="12.4">4.0</text>
<text transform="translate(108 95) scale(0.887 1)" fill="#0000ff" text-anchor="end" font-size="12.4">5.0</text>
<text transform="translate(119 505) scale(0.887 1)" fill="#808080" text-anchor="start" font-size="12.4">0</text>
<text transform="translate(144.7 505) scale(0.887 1)" fill="#808080" text-anchor="end" font-size="12.4">N</text>
<text transform="translate(144.5 471) scale(0.887 1)" fill="#808080" text-anchor="end" font-size="12.4">30</text>
<text transform="translate(144.5 437) scale(0.887 1)" fill="#808080" text-anchor="end" font-size="12.4">60</text>
<text transform="translate(119 403) scale(0.887 1)" fill="#808080" text-anchor="start" font-size="12.4">90</text>
<text transform="translate(144.9 403) scale(0.887 1)" fill="#808080" text-anchor="end" font-size="12.4">O</text>
<text transform="translate(144.5 368) scale(0.887 1)" fill="#808080" text-anchor="end" font-size="12.4">120</text>
<text transform="translate(144.5 334) scale(0.887 1)" fill="#808080" text-anchor="end" font-size="12.4">150</text>
<text transform="translate(144.5 300) scale(0.887 1)" fill="#808080" text-anchor="end" font-size="12.4" textLength="31.3" lengthAdjust="spacingAndGlyphs">180 S</text>
<text transform="translate(144.5 266) scale(0.887 1)" fill="#808080" text-anchor="end" font-size="12.4">210</text>
<text transform="translate(144.5 232) scale(0.887 1)" fill="#808080" text-anchor="end" font-size="12.4">240</text>
<text transform="translate(144.5 197) scale(0.887 1)" fill="#808080" text-anchor="end" font-size="12.4" textLength="34.4" lengthAdjust="spacingAndGlyphs">270 W</text>
<text transform="translate(144.5 163) scale(0.887 1)" fill="#808080" text-anchor="end" font-size="12.4">300</text>
<text transform="translate(144.5 129) scale(0.887 1)" fill="#808080" text-anchor="end" font-size="12.4">330</text>
<text transform="translate(144.5 95) scale(0.887 1)" fill="#808080" text-anchor="end" font-size="12.4" textLength="31.0" lengthAdjust="spacingAndGlyphs">360 N</text>
<text transform="translate(182.5 505) scale(0.887 1)" fill="#ffff00" text-anchor="end" font-size="12.4">0.0</text>
<text transform="translate(182.5 464) scale(0.887 1)" fill="#ffff00" text-anchor="end" font-size="12.4">1.0</text>
<text transform="translate(182.5 423) scale(0.887 1)" fill="#ffff00" text-anchor="end" font-size="12.4">2.0</text>
<text transform="translate(182.5 382) scale(0.887 1)" fill="#ffff00" text-anchor="end" font-size="12.4">3.0</text>
<text transform="translate(182.5 341) scale(0.887 1)" fill="#ffff00" text-anchor="end" font-size="12.4">4.0</text>
<text transform="translate(182.5 300) scale(0.887 1)" fill="#ffff00" text-anchor="end" font-size="12.4">5.0</text>
<text transform="translate(182.5 259) scale(0.887 1)" fill="#ffff00" text-anchor="end" font-size="12.4">6.0</text>
<text transform="translate(182.5 218) scale(0.887 1)" fill="#ffff00" text-anchor="end" font-size="12.4">7.0</text>
<text transform="translate(182.5 177) scale(0.887 1)" fill="#ffff00" text-anchor="end" font-size="12.4">8.0</text>
<text transform="translate(182.5 136) scale(0.887 1)" fill="#ffff00" text-anchor="end" font-size="12.4">9.0</text>
<text transform="translate(182.5 95) scale(0.887 1)" fill="#ffff00" text-anchor="end" font-size="12.4">10.0</text>
<text transform="translate(664.3 505) scale(0.887 1)" fill="#8080ff" text-anchor="start" font-size="12.4">0</text>
<text transform="translate(664.3 464) scale(0.887 1)" fill="#8080ff" text-anchor="start" font-size="12.4">10</text>
<text transform="translate(664.3 423) scale(0.887 1)" fill="#8080ff" text-anchor="start" font-size="12.4">20</text>
<text transform="translate(664.3 382) scale(0.887 1)" fill="#8080ff" text-anchor="start" font-size="12.4">30</text>
<text transform="translate(664.3 341) scale(0.887 1)" fill="#8080ff" text-anchor="start" font-size="12.4">40</text>
<text transform="translate(664.3 300) scale(0.887 1)" fill="#8080ff" text-anchor="start" font-size="12.4">50</text>
<text transform="translate(664.3 259) scale(0.887 1)" fill="#8080ff" text-anchor="start" font-size="12.4">60</text>
<text transform="translate(664.3 218) scale(0.887 1)" fill="#8080ff" text-anchor="start" font-size="12.4">70</text>
<text transform="translate(664.3 177) scale(0.887 1)" fill="#8080ff" text-anchor="start" font-size="12.4">80</text>
<text transform="translate(664.3 136) scale(0.887 1)" fill="#8080ff" text-anchor="start" font-size="12.4">90</text>
<text transform="translate(664.3 95) scale(0.887 1)" fill="#8080ff" text-anchor="start" font-size="12.4">100</text>
<text transform="translate(701 505) scale(0.887 1)" fill="#ff0080" text-anchor="start" font-size="12.4">1000</text>
<text transform="translate(701 485) scale(0.887 1)" fill="#ff0080" text-anchor="start" font-size="12.4">1001</text>
<text transform="translate(701 464) scale(0.887 1)" fill="#ff0080" text-anchor="start" font-size="12.4">1002</text>
<text transform="translate(701 443) scale(0.887 1)" fill="#ff0080" text-anchor="start" font-size="12.4">1003</text>
<text transform="translate(701 423) scale(0.887 1)" fill="#ff0080" text-anchor="start" font-size="12.4">1004</text>
<text transform="translate(701 403) scale(0.887 1)" fill="#ff0080" text-anchor="start" font-size="12.4">1005</text>
<text transform="translate(701 382) scale(0.887 1)" fill="#ff0080" text-anchor="start" font-size="12.4">1006</text>
<text transform="translate(701 361) scale(0.887 1)" fill="#ff0080" text-anchor="start" font-size="12.4">1007</text>
<text transform="translate(701 341) scale(0.887 1)" fill="#ff0080" text-anchor="start" font-size="12.4">1008</text>
<text transform="translate(701 321) scale(0.887 1)" fill="#ff0080" text-anchor="start" font-size="12.4">1009</text>
<text transform="translate(701 300) scale(0.887 1)" fill="#ff0080" text-anchor="start" font-size="12.4">1010</text>
<text transform="translate(701 279) scale(0.887 1)" fill="#ff0080" text-anchor="start" font-size="12.4">1011</text>
<text transform="translate(701 259) scale(0.887 1)" fill="#ff0080" text-anchor="start" font-size="12.4">1012</text>
<text transform="translate(701 239) scale(0.887 1)" fill="#ff0080" text-anchor="start" font-size="12.4">1013</text>
<text transform="translate(701 218) scale(0.887 1)" fill="#ff0080" text-anchor="start" font-size="12.4">1014</text>
<text transform="translate(701 197) scale(0.887 1)" fill="#ff0080" text-anchor="start" font-size="12.4">1015</text>
<text transform="translate(701 177) scale(0.887 1)" fill="#ff0080" text-anchor="start" font-size="12.4">1016</text>
<text transform="translate(701 157) scale(0.887 1)" fill="#ff0080" text-anchor="start" font-size="12.4">1017</text>
<text transform="translate(701 136) scale(0.887 1)" fill="#ff0080" text-anchor="start" font-size="12.4">1018</text>
<text transform="translate(701 115) scale(0.887 1)" fill="#ff0080" text-anchor="start" font-size="12.4">1019</text>
<text transform="translate(701 95) scale(0.887 1)" fill="#ff0080" text-anchor="start" font-size="12.4">1020</text>
<text transform="translate(738 505) scale(0.887 1)" fill="#000" text-anchor="start" font-size="12.4">0.0</text>
<text transform="translate(738 479) scale(0.887 1)" fill="#000" text-anchor="start" font-size="12.4">5.0</text>
<text transform="translate(738 454) scale(0.887 1)" fill="#000" text-anchor="start" font-size="12.4">10.0</text>
<text transform="translate(738 428) scale(0.887 1)" fill="#000" text-anchor="start" font-size="12.4">15.0</text>
<text transform="translate(738 403) scale(0.887 1)" fill="#000" text-anchor="start" font-size="12.4">20.0</text>
<text transform="translate(738 377) scale(0.887 1)" fill="#000" text-anchor="start" font-size="12.4">25.0</text>
<text transform="translate(738 351) scale(0.887 1)" fill="#000" text-anchor="start" font-size="12.4">30.0</text>
<text transform="translate(738 326) scale(0.887 1)" fill="#000" text-anchor="start" font-size="12.4">35.0</text>
<text transform="translate(738 300) scale(0.887 1)" fill="#000" text-anchor="start" font-size="12.4">40.0</text>
<text transform="translate(738 274) scale(0.887 1)" fill="#000" text-anchor="start" font-size="12.4">45.0</text>
<text transform="translate(738 249) scale(0.887 1)" fill="#000" text-anchor="start" font-size="12.4">50.0</text>
<text transform="translate(738 223) scale(0.887 1)" fill="#000" text-anchor="start" font-size="12.4">55.0</text>
<text transform="translate(738 197) scale(0.887 1)" fill="#000" text-anchor="start" font-size="12.4">60.0</text>
<text transform="translate(738 172) scale(0.887 1)" fill="#000" text-anchor="start" font-size="12.4">65.0</text>
<text transform="translate(738 146) scale(0.887 1)" fill="#000" text-anchor="start" font-size="12.4">70.0</text>
<text transform="translate(738 121) scale(0.887 1)" fill="#000" text-anchor="start" font-size="12.4">75.0</text>
<text transform="translate(738 95) scale(0.887 1)" fill="#000" text-anchor="start" font-size="12.4">80.0</text>
<text transform="translate(775 505) scale(0.887 1)" fill="#ff8000" text-anchor="start" font-size="12.4">0</text>
<text transform="translate(775 464) scale(0.887 1)" fill="#ff8000" text-anchor="start" font-size="12.4">10</text>
<text transform="translate(775 423) scale(0.887 1)" fill="#ff8000" text-anchor="start" font-size="12.4">20</text>
<text transform="translate(775 382) scale(0.887 1)" fill="#ff8000" text-anchor="start" font-size="12.4">30</text>
<text transform="translate(775 341) scale(0.887 1)" fill="#ff8000" text-anchor="start" font-size="12.4">40</text>
<text transform="translate(775 300) scale(0.887 1)" fill="#ff8000" text-anchor="start" font-size="12.4">50</text>
<text transform="translate(775 259) scale(0.887 1)" fill="#ff8000" text-anchor="start" font-size="12.4">60</text>
<text transform="translate(775 218) scale(0.887 1)" fill="#ff8000" text-anchor="start" font-size="12.4">70</text>
<text transform="translate(775 177) scale(0.887 1)" fill="#ff8000" text-anchor="start" font-size="12.4">80</text>
<text transform="translate(775 136) scale(0.887 1)" fill="#ff8000" text-anchor="start" font-size="12.4">90</text>
<text transform="translate(775 95) scale(0.887 1)" fill="#ff8000" text-anchor="start" font-size="12.4">100</text>
<text transform="translate(812 505) scale(0.887 1)" fill="#ffa07a" text-anchor="start" font-size="12.4">0</text>
<text transform="translate(812 485) scale(0.887 1)" fill="#ffa07a" text-anchor="start" font-size="12.4">50</text>
<text transform="translate(812 464) scale(0.887 1)" fill="#ffa07a" text-anchor="start" font-size="12.4">100</text>
<text transform="translate(812 443) scale(0.887 1)" fill="#ffa07a" text-anchor="start" font-size="12.4">150</text>
<text transform="translate(812 423) scale(0.887 1)" fill="#ffa07a" text-anchor="start" font-size="12.4">200</text>
<text transform="translate(812 403) scale(0.887 1)" fill="#ffa07a" text-anchor="start" font-size="12.4">250</text>
<text transform="translate(812 382) scale(0.887 1)" fill="#ffa07a" text-anchor="start" font-size="12.4">300</text>
<text transform="translate(812 361) scale(0.887 1)" fill="#ffa07a" text-anchor="start" font-size="12.4">350</text>
<text transform="translate(812 341) scale(0.887 1)" fill="#ffa07a" text-anchor="start" font-size="12.4">400</text>
<text transform="translate(812 321) scale(0.887 1)" fill="#ffa07a" text-anchor="start" font-size="12.4">450</text>
<text transform="translate(812 300) scale(0.887 1)" fill="#ffa07a" text-anchor="start" font-size="12.4">500</text>
<text transform="translate(812 279) scale(0.887 1)" fill="#ffa07a" text-anchor="start" font-size="12.4">550</text>
<text transform="translate(812 259) scale(0.887 1)" fill="#ffa07a" text-anchor="start" font-size="12.4">600</text>
<text transform="translate(812 239) scale(0.887 1)" fill="#ffa07a" text-anchor="start" font-size="12.4">650</text>
<text transform="translate(812 218) scale(0.887 1)" fill="#ffa07a" text-anchor="start" font-size="12.4">700</text>
<text transform="translate(812 197) scale(0.887 1)" fill="#ffa07a" text-anchor="start" font-size="12.4">750</text>
<text transform="translate(812 177) scale(0.887 1)" fill="#ffa07a" text-anchor="start" font-size="12.4">800</text>
<text transform="translate(812 157) scale(0.887 1)" fill="#ffa07a" text-anchor="start" font-size="12.4">850</text>
<text transform="translate(812 136) scale(0.887 1)" fill="#ffa07a" text-anchor="start" font-size="12.4">900</text>
<text transform="translate(812 115) scale(0.887 1)" fill="#ffa07a" text-anchor="start" font-size="12.4">950</text>
<text transform="translate(812 95) scale(0.887 1)" fill="#ffa07a" text-anchor="start" font-size="12.4">1000</text>
<text transform="translate(19.5 79) scale(0.887 1)" fill="#008000" text-anchor="start" font-size="12.4" textLength="12.2" lengthAdjust="spacingAndGlyphs">°C</text>
<text transform="translate(62 79) scale(0.887 1)" fill="#00ffff" text-anchor="start" font-size="12.4">lf</text>
<text transform="translate(86 79) scale(0.887 1)" fill="#0000ff" text-anchor="start" font-size="12.4">l/m²</text>
<text transform="translate(137 79) scale(0.887 1)" fill="#808080" text-anchor="start" font-size="12.4">°</text>
<text transform="translate(157 79) scale(0.887 1)" fill="#ffff00" text-anchor="start" font-size="12.4">UV-I</text>
<text transform="translate(658.5 79) scale(0.887 1)" fill="#8080ff" text-anchor="start" font-size="12.4" textLength="9.0" lengthAdjust="spacingAndGlyphs">%</text>
<text transform="translate(695.5 79) scale(0.887 1)" fill="#ff0080" text-anchor="start" font-size="12.4" textLength="21.2" lengthAdjust="spacingAndGlyphs">hPa</text>
<text transform="translate(732 79) scale(0.887 1)" fill="#000" text-anchor="start" font-size="12.4">km/h</text>
<text transform="translate(769 79) scale(0.887 1)" fill="#ff8000" text-anchor="start" font-size="12.4">min</text>
<text transform="translate(806 79) scale(0.887 1)" fill="#ffa07a" text-anchor="start" font-size="12.4">W/m²</text>
<text x="350" y="21" fill="#000" text-anchor="start" font-size="16" textLength="148.5" lengthAdjust="spacingAndGlyphs">Sonntag, 20.11.2016</text>
<text transform="translate(749.5 16.5) scale(0.887 1)" fill="#000" text-anchor="start" font-size="12.4" textLength="95.3" lengthAdjust="spacingAndGlyphs">MA - Seckenheim</text>
<g shape-rendering="crispEdges">
<rect x="198.5" y="33.5" width="9" height="9" fill="#008000" stroke="#000" stroke-width="1"/>
<rect x="198.5" y="47.5" width="9" height="9" fill="#ff0080" stroke="#000" stroke-width="1"/>
<rect x="198.5" y="61.5" width="9" height="9" fill="#ff8000" stroke="#000" stroke-width="1"/>
<rect x="198.5" y="75.5" width="9" height="9" fill="#c0c0c0" stroke="#000" stroke-width="1"/>
<rect x="293.5" y="33.5" width="9" height="9" fill="#804000" stroke="#000" stroke-width="1"/>
<rect x="293.5" y="47.5" width="9" height="9" fill="#0000ff" stroke="#000" stroke-width="1"/>
<rect x="293.5" y="61.5" width="9" height="9" fill="#ffff00" stroke="#000" stroke-width="1"/>
<path d="M293.5 84V75.5H302.5V84.5H299" fill="none" stroke="#008040" stroke-width="1"/>
<rect x="388.5" y="33.5" width="9" height="9" fill="#8080ff" stroke="#000" stroke-width="1"/>
<rect x="388.5" y="47.5" width="9" height="9" fill="#000000" stroke="#000" stroke-width="1"/>
<rect x="388.5" y="61.5" width="9" height="9" fill="#ffa07a" stroke="#000" stroke-width="1"/>
<rect x="483.5" y="33.5" width="9" height="9" fill="#00ffff" stroke="#000" stroke-width="1"/>
<rect x="483.5" y="47.5" width="9" height="9" fill="#808080" stroke="#000" stroke-width="1"/>
<rect x="483.5" y="61.5" width="9" height="9" fill="#00ff00" stroke="#000" stroke-width="1"/>
</g>
<text transform="translate(213 42) scale(0.887 1)" fill="#008000" text-anchor="start" font-size="12.4" textLength="59.2" lengthAdjust="spacingAndGlyphs">T- 2m aktiv</text>
<text transform="translate(213 56) scale(0.887 1)" fill="#ff0080" text-anchor="start" font-size="12.4" textLength="50.2" lengthAdjust="spacingAndGlyphs">Luftdruck</text>
<text transform="translate(213 70) scale(0.887 1)" fill="#ff8000" text-anchor="start" font-size="12.4" textLength="76.1" lengthAdjust="spacingAndGlyphs">Sonnenschein</text>
<text transform="translate(213 84) scale(0.887 1)" fill="#000" text-anchor="start" font-size="12.4" textLength="55.5" lengthAdjust="spacingAndGlyphs">Windböen</text>
<text transform="translate(307.5 42) scale(0.887 1)" fill="#008000" text-anchor="start" font-size="12.4" textLength="46.2" lengthAdjust="spacingAndGlyphs">T +5cm*</text>
<text transform="translate(307.5 56) scale(0.887 1)" fill="#0000ff" text-anchor="start" font-size="12.4" textLength="36.6" lengthAdjust="spacingAndGlyphs">Regen</text>
<text transform="translate(307.5 70) scale(0.887 1)" fill="#ffff00" text-anchor="start" font-size="12.4" textLength="16.0" lengthAdjust="spacingAndGlyphs">UV</text>
<text transform="translate(307.5 84) scale(0.887 1)" fill="#008040" text-anchor="start" font-size="12.4" textLength="66.2" lengthAdjust="spacingAndGlyphs">5.2 Monat-Ø</text>
<text transform="translate(402.2 42) scale(0.887 1)" fill="#8080ff" text-anchor="start" font-size="12.4" textLength="58.9" lengthAdjust="spacingAndGlyphs">F- 2m aktiv</text>
<text transform="translate(402.2 56) scale(0.887 1)" fill="#000" text-anchor="start" font-size="12.4" textLength="32.9" lengthAdjust="spacingAndGlyphs">Wind*</text>
<text transform="translate(402.2 70) scale(0.887 1)" fill="#ffa07a" text-anchor="start" font-size="12.4" textLength="27.3" lengthAdjust="spacingAndGlyphs">Solar</text>
<text transform="translate(497.5 42) scale(0.887 1)" fill="#00ffff" text-anchor="start" font-size="12.4" textLength="37.2" lengthAdjust="spacingAndGlyphs">F- Blatt</text>
<text transform="translate(497.5 56) scale(0.887 1)" fill="#808080" text-anchor="start" font-size="12.4" textLength="48.4" lengthAdjust="spacingAndGlyphs">Richtung</text>
<text transform="translate(497.5 70) scale(0.887 1)" fill="#008000" text-anchor="start" font-size="12.4" textLength="51.3" lengthAdjust="spacingAndGlyphs">Taupunkt</text>
<text transform="translate(188.5 519) scale(0.887 1)" fill="#000" text-anchor="middle" font-size="12.4">00:00</text>
<text transform="translate(227.5 519) scale(0.887 1)" fill="#000" text-anchor="middle" font-size="12.4">02:00</text>
<text transform="translate(266.5 519) scale(0.887 1)" fill="#000" text-anchor="middle" font-size="12.4">04:00</text>
<text transform="translate(306.5 519) scale(0.887 1)" fill="#000" text-anchor="middle" font-size="12.4">06:00</text>
<text transform="translate(345.5 519) scale(0.887 1)" fill="#000" text-anchor="middle" font-size="12.4">08:00</text>
<text transform="translate(384.5 519) scale(0.887 1)" fill="#000" text-anchor="middle" font-size="12.4">10:00</text>
<text transform="translate(423.5 519) scale(0.887 1)" fill="#000" text-anchor="middle" font-size="12.4">12:00</text>
<text transform="translate(462.5 519) scale(0.887 1)" fill="#000" text-anchor="middle" font-size="12.4">14:00</text>
<text transform="translate(501.5 519) scale(0.887 1)" fill="#000" text-anchor="middle" font-size="12.4">16:00</text>
<text transform="translate(540.5 519) scale(0.887 1)" fill="#000" text-anchor="middle" font-size="12.4">18:00</text>
<text transform="translate(580.5 519) scale(0.887 1)" fill="#000" text-anchor="middle" font-size="12.4">20:00</text>
<text transform="translate(619.5 519) scale(0.887 1)" fill="#000" text-anchor="middle" font-size="12.4">22:00</text>
<text transform="translate(658.5 519) scale(0.887 1)" fill="#000" text-anchor="middle" font-size="12.4">24:00</text>
<text transform="translate(10 530) scale(0.887 1)" fill="#000" text-anchor="start" font-size="12.4">08:52</text>
<text transform="translate(306 530) scale(0.887 1)" fill="#000" text-anchor="start" font-size="12.4">07:45</text>
<text transform="translate(445.5 530) scale(0.887 1)" fill="#000" text-anchor="start" font-size="12.4">12:50</text>
<text transform="translate(481 530) scale(0.887 1)" fill="#000" text-anchor="start" font-size="12.4">16:37</text>
<text transform="translate(650.5 530) scale(0.887 1)" fill="#000" text-anchor="start" font-size="12.4">23:15</text>
<path d="M40 529v-3l2-2l1-1h3l1 1l2 2v3z" fill="#ffff00"/>
<g stroke="#ffff80" stroke-width="1"><path d="M340.5 521v10M335.5 526h10M337 522.5l7 7M344 522.5l-7 7"/></g><circle cx="340.5" cy="526" r="3" fill="#ffff00"/>
<path d="M436 520h3v2.5h1.6l-3.1 6.3l-3.1-6.3h1.6z" fill="#ffff00"/><path d="M440.8 522.3l-3.3 6.7" stroke="#000" stroke-width="1" stroke-dasharray="1.5 1" fill="none"/><path d="M434.3 522.3l2.6 5.5" stroke="#6060d0" stroke-width="1" stroke-dasharray="1 1" fill="none"/><path d="M439 527.5h6" stroke="#3030b0" stroke-width="1" stroke-dasharray="2 3" fill="none"/>
<rect x="512.5" y="523.5" width="4" height="5" fill="#fff" stroke="#ffff00" shape-rendering="crispEdges"/>
<rect x="639.5" y="520.5" width="5" height="5" fill="none" stroke="#4040c0" stroke-dasharray="1 1" shape-rendering="crispEdges"/>
<path d="M646.5 522l3.5 5h-2v4h-3v-4h-2z" fill="#ffee00" stroke="#000" stroke-width="0.5"/>
<g shape-rendering="crispEdges">
<rect x="339" y="496" width="2" height="13" fill="#ffff00"/>
<rect x="513" y="496" width="2" height="13" fill="#ffff00"/>
<rect x="438" y="496" width="2" height="13" fill="#808080"/>
<rect x="643" y="496" width="2" height="13" fill="#808080"/>
</g>
<g shape-rendering="crispEdges">
<rect x="1" y="539" width="844" height="76" fill="#c0c0c0"/>
<rect x="87" y="539" width="1" height="76" fill="#fff"/>
<rect x="88" y="539" width="1" height="76" fill="#a8a498"/>
<rect x="204" y="539" width="1" height="76" fill="#fff"/>
<rect x="205" y="539" width="1" height="76" fill="#a8a498"/>
<rect x="322" y="539" width="1" height="76" fill="#fff"/>
<rect x="323" y="539" width="1" height="76" fill="#a8a498"/>
<rect x="440" y="539" width="1" height="76" fill="#fff"/>
<rect x="441" y="539" width="1" height="76" fill="#a8a498"/>
<rect x="558" y="539" width="1" height="76" fill="#fff"/>
<rect x="559" y="539" width="1" height="76" fill="#a8a498"/>
<rect x="676" y="539" width="1" height="76" fill="#fff"/>
<rect x="677" y="539" width="1" height="76" fill="#a8a498"/>
<rect x="794" y="539" width="1" height="76" fill="#fff"/>
<rect x="795" y="539" width="1" height="76" fill="#a8a498"/>
</g>
<text x="8.5" y="557" fill="#000" text-anchor="start" font-size="12" font-weight="bold" textLength="38.5" lengthAdjust="spacingAndGlyphs">Sensor</text>
<text x="8.5" y="573" fill="#000" text-anchor="start" font-size="12" font-weight="bold" textLength="46.5" lengthAdjust="spacingAndGlyphs">MinWert</text>
<text x="8.5" y="589" fill="#000" text-anchor="start" font-size="12" font-weight="bold" textLength="49.5" lengthAdjust="spacingAndGlyphs">MaxWert</text>
<text x="8.5" y="605" fill="#000" text-anchor="start" font-size="12" font-weight="bold" textLength="72" lengthAdjust="spacingAndGlyphs">Durchschnitt</text>
<text x="8.5" y="621" fill="#000" text-anchor="start" font-size="12" font-weight="bold" textLength="72" lengthAdjust="spacingAndGlyphs">20.11.  23.55</text>
<text x="95" y="557" fill="#000" text-anchor="start" font-size="12" font-weight="bold" textLength="63" lengthAdjust="spacingAndGlyphs">T- 2m aktiv</text>
<text x="198.3" y="557" fill="#000" text-anchor="end" font-size="12" font-weight="bold" textLength="12.5" lengthAdjust="spacingAndGlyphs">°C</text>
<text transform="translate(101.3 573) scale(0.887 1)" fill="#000" text-anchor="start" font-size="12.4">00:00</text>
<text transform="translate(198.3 573) scale(0.887 1)" fill="#000" text-anchor="end" font-size="12.4">4.8</text>
<text transform="translate(101.3 589) scale(0.887 1)" fill="#000" text-anchor="start" font-size="12.4">14:50</text>
<text transform="translate(198.3 589) scale(0.887 1)" fill="#000" text-anchor="end" font-size="12.4">16.4</text>
<text transform="translate(101.3 605) scale(0.887 1)" fill="#000" text-anchor="start" font-size="12.4" textLength="43.6" lengthAdjust="spacingAndGlyphs">(+ 5.68 )</text>
<text transform="translate(198.3 605) scale(0.887 1)" fill="#000" text-anchor="end" font-size="12.4">10.88</text>
<text x="198.3" y="621" fill="#000" text-anchor="end" font-size="12" font-weight="bold" textLength="24" lengthAdjust="spacingAndGlyphs">12.6</text>
<text x="212" y="557" fill="#000" text-anchor="start" font-size="12" font-weight="bold" textLength="63" lengthAdjust="spacingAndGlyphs">F- 2m aktiv</text>
<text x="316.5" y="557" fill="#000" text-anchor="end" font-size="12" font-weight="bold" textLength="9" lengthAdjust="spacingAndGlyphs">%</text>
<text transform="translate(218.3 573) scale(0.887 1)" fill="#000" text-anchor="start" font-size="12.4">14:50</text>
<text transform="translate(316.5 573) scale(0.887 1)" fill="#000" text-anchor="end" font-size="12.4">53</text>
<text transform="translate(218.3 589) scale(0.887 1)" fill="#000" text-anchor="start" font-size="12.4">00:00</text>
<text transform="translate(316.5 589) scale(0.887 1)" fill="#000" text-anchor="end" font-size="12.4">89</text>
<text transform="translate(316.5 605) scale(0.887 1)" fill="#000" text-anchor="end" font-size="12.4">67</text>
<text transform="translate(215 621) scale(0.887 1)" fill="#000" text-anchor="start" font-size="12.4">6.52 g/m³</text>
<text x="316.5" y="621" fill="#000" text-anchor="end" font-size="12" font-weight="bold" textLength="13" lengthAdjust="spacingAndGlyphs">59</text>
<text x="330" y="557" fill="#000" text-anchor="start" font-size="12" font-weight="bold" textLength="53" lengthAdjust="spacingAndGlyphs">Luftdruck</text>
<text x="434.5" y="557" fill="#000" text-anchor="end" font-size="12" font-weight="bold" textLength="21.5" lengthAdjust="spacingAndGlyphs">hPa</text>
<text transform="translate(336.3 573) scale(0.887 1)" fill="#000" text-anchor="start" font-size="12.4">14:55</text>
<text transform="translate(434.5 573) scale(0.887 1)" fill="#000" text-anchor="end" font-size="12.4">1001.1</text>
<text transform="translate(336.3 589) scale(0.887 1)" fill="#000" text-anchor="start" font-size="12.4">00:00</text>
<text transform="translate(434.5 589) scale(0.887 1)" fill="#000" text-anchor="end" font-size="12.4">1009.0</text>
<text transform="translate(331 605) scale(0.887 1)" fill="#000" text-anchor="start" font-size="12.4">^1.7hPa/h</text>
<text transform="translate(434.5 605) scale(0.887 1)" fill="#000" text-anchor="end" font-size="12.4">1003.6</text>
<text transform="translate(353 621) scale(0.887 1)" fill="#000" text-anchor="start" font-size="12.4">wind</text>
<text x="434.5" y="621" fill="#000" text-anchor="end" font-size="12" font-weight="bold" textLength="37" lengthAdjust="spacingAndGlyphs">1004.0</text>
<text x="448" y="557" fill="#000" text-anchor="start" font-size="12" font-weight="bold" textLength="56.5" lengthAdjust="spacingAndGlyphs">Windböen</text>
<text x="552.5" y="557" fill="#000" text-anchor="end" font-size="12" font-weight="bold" textLength="28.5" lengthAdjust="spacingAndGlyphs">km/h</text>
<text transform="translate(448.5 573) scale(0.887 1)" fill="#000" text-anchor="start" font-size="12.4" textLength="49.4" lengthAdjust="spacingAndGlyphs">Ø 10 min.</text>
<text transform="translate(552.5 573) scale(0.887 1)" fill="#000" text-anchor="end" font-size="12.4">4.8</text>
<text transform="translate(454.3 589) scale(0.887 1)" fill="#000" text-anchor="start" font-size="12.4">11:10</text>
<text transform="translate(552.5 589) scale(0.887 1)" fill="#000" text-anchor="end" font-size="12.4">S-SO 24.1</text>
<text transform="translate(552.5 605) scale(0.887 1)" fill="#000" text-anchor="end" font-size="12.4">9.6</text>
<text transform="translate(454.3 621) scale(0.887 1)" fill="#000" text-anchor="start" font-size="12.4">1 Bft S-SO</text>
<text x="552.5" y="621" fill="#000" text-anchor="end" font-size="12" font-weight="bold" textLength="17.5" lengthAdjust="spacingAndGlyphs">3.2</text>
<text x="566" y="557" fill="#000" text-anchor="start" font-size="12" font-weight="bold" textLength="36.5" lengthAdjust="spacingAndGlyphs">Regen</text>
<text x="670.5" y="557" fill="#000" text-anchor="end" font-size="12" font-weight="bold" textLength="21.5" lengthAdjust="spacingAndGlyphs">l/m²</text>
<text transform="translate(566.5 573) scale(0.887 1)" fill="#000" text-anchor="start" font-size="12.4" textLength="30.1" lengthAdjust="spacingAndGlyphs">0 min.</text>
<text transform="translate(572.3 589) scale(0.887 1)" fill="#000" text-anchor="start" font-size="12.4">00:00</text>
<text transform="translate(670.5 589) scale(0.887 1)" fill="#000" text-anchor="end" font-size="12.4">0.0</text>
<text transform="translate(566.5 605) scale(0.887 1)" fill="#000" text-anchor="start" font-size="12.4" textLength="41.9" lengthAdjust="spacingAndGlyphs">Gesamt:</text>
<text transform="translate(670.5 605) scale(0.887 1)" fill="#000" text-anchor="end" font-size="12.4">0.0</text>
<text transform="translate(570 621) scale(0.887 1)" fill="#000" text-anchor="start" font-size="12.4">0.0 l/m²</text>
<text x="670.5" y="621" fill="#000" text-anchor="end" font-size="12" font-weight="bold" textLength="17.5" lengthAdjust="spacingAndGlyphs">0.0</text>
<text x="684" y="557" fill="#000" text-anchor="start" font-size="12" font-weight="bold" textLength="57" lengthAdjust="spacingAndGlyphs">PMV+1:11</text>
<text transform="translate(684.5 573) scale(0.887 1)" fill="#000" text-anchor="start" font-size="12.4" textLength="62.8" lengthAdjust="spacingAndGlyphs">WC 12.6 °C</text>
<text transform="translate(684.5 589) scale(0.887 1)" fill="#000" text-anchor="start" font-size="12.4" textLength="52.0" lengthAdjust="spacingAndGlyphs">TP 4.8 °C</text>
<text transform="translate(684.5 605) scale(0.887 1)" fill="#000" text-anchor="start" font-size="12.4">0.5hPa/3h</text>
<text transform="translate(686.5 621) scale(0.887 1)" fill="#000" text-anchor="start" font-size="12.4">-0.2hPa/1h</text>
</svg>
</body></html>
